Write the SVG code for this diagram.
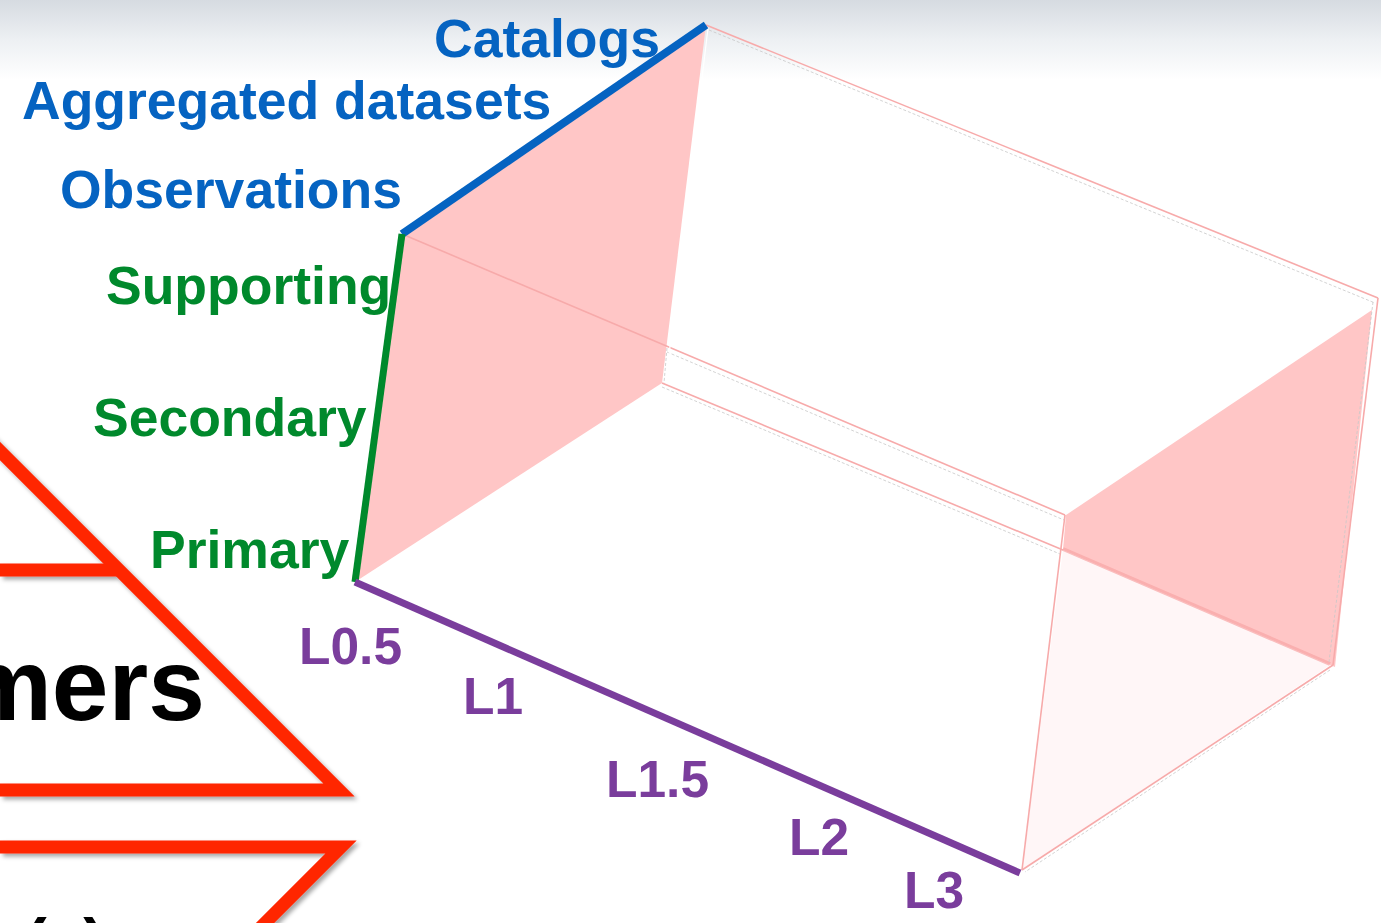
<svg xmlns="http://www.w3.org/2000/svg" width="1381" height="923" viewBox="0 0 1381 923">
<defs>
<linearGradient id="topbg" x1="0" y1="0" x2="0" y2="1">
<stop offset="0" stop-color="#d6dbe1"/>
<stop offset="0.5" stop-color="#edf0f3"/>
<stop offset="1" stop-color="#ffffff"/>
</linearGradient>
<radialGradient id="glow" cx="0.5" cy="0" r="0.5">
<stop offset="0" stop-color="#d6ecff" stop-opacity="0.9"/>
<stop offset="1" stop-color="#d6ecff" stop-opacity="0"/>
</radialGradient>
<filter id="shadow" x="-10%" y="-10%" width="130%" height="130%">
<feDropShadow dx="3" dy="3" stdDeviation="2" flood-color="#000" flood-opacity="0.35"/>
</filter>
</defs>
<style>
.blue{fill:#0563c1;font-family:"Liberation Sans",Arial,sans-serif;font-weight:bold;font-size:53.5px}
.green{fill:#00892c;font-family:"Liberation Sans",Arial,sans-serif;font-weight:bold;font-size:53.5px}
.purple{fill:#7a3d9c;font-family:"Liberation Sans",Arial,sans-serif;font-weight:bold;font-size:51.5px}
.black{fill:#000;font-family:"Liberation Sans",Arial,sans-serif;font-weight:bold}
.edge{stroke:#f7aaaa;stroke-width:1.6;fill:none}
.grey{stroke:#c8c8c8;stroke-width:0.8;fill:none;stroke-dasharray:3 2}
.red{stroke:#ff2600;stroke-width:13;fill:none;stroke-linejoin:miter}
</style>
<rect x="0" y="0" width="1381" height="923" fill="#ffffff"/>
<rect x="0" y="0" width="1381" height="80" fill="url(#topbg)"/>
<ellipse cx="680" cy="0" rx="260" ry="70" fill="url(#glow)"/>

<g id="chevrons" filter="url(#shadow)">
<polyline class="red" points="-12,439 339,790 0,790"/>
<line class="red" x1="0" y1="570" x2="119" y2="570"/>
<polyline class="red" points="0,847 341,847 260,928"/>
</g>
<g id="partial-text">
<text class="black" x="205" y="720" font-size="102" text-anchor="end">mers</text>
<text class="black" x="-1" y="965" font-size="66">r(s)</text>
</g>

<g id="box">
<polygon points="402,234 706,25 662,383 355,582" fill="#ffc6c6"/>
<polygon points="1066,515 1372,310 1335,667 1063,550" fill="#ffc6c6"/>
<polygon points="1063,550 1330,665 1022,870" fill="#fff6f7"/>
<line x1="1063" y1="549" x2="1330" y2="664" stroke="#f8a6a6" stroke-width="4" opacity="0.7"/>
<line class="grey" x1="709" y1="30" x2="1375" y2="303"/>
<line class="edge" x1="706" y1="25" x2="1378" y2="298"/>
<line class="grey" x1="1373" y1="302" x2="1329" y2="662"/>
<line class="edge" x1="1378" y1="298" x2="1333" y2="665"/>
<line class="grey" x1="1330" y1="670" x2="1025" y2="872"/>
<line class="edge" x1="1333" y1="665" x2="1022" y2="870"/>
<line class="edge" x1="1022" y1="870" x2="1065" y2="515"/>
<line class="edge" x1="402" y1="234" x2="1065" y2="515" stroke="#ec9a9a"/>
<line class="grey" x1="667" y1="352" x2="1064" y2="520"/>
<line class="edge" x1="662" y1="383" x2="1063" y2="550"/>
<line class="grey" x1="662" y1="387" x2="1060" y2="554"/>
<line x1="708" y1="28" x2="666" y2="380" stroke="#ffffff" stroke-width="1.2"/>
<line class="grey" x1="667" y1="348" x2="664" y2="383"/>
</g>

<g id="axes">
<line x1="402" y1="234" x2="706" y2="25" stroke="#0563c1" stroke-width="8"/>
<line x1="355" y1="582" x2="402" y2="234" stroke="#00892c" stroke-width="7"/>
<line x1="355" y1="582" x2="1020" y2="873" stroke="#7a3d9c" stroke-width="7"/>
</g>

<g id="labels-blue">
<text class="blue" x="434" y="57">Catalogs</text>
<text class="blue" x="22" y="119">Aggregated datasets</text>
<text class="blue" x="60" y="208">Observations</text>
</g>
<g id="labels-green">
<text class="green" x="106" y="304">Supporting</text>
<text class="green" x="93" y="436">Secondary</text>
<text class="green" x="150" y="568">Primary</text>
</g>
<g id="labels-purple">
<text class="purple" x="299" y="664">L0.5</text>
<text class="purple" x="463" y="714">L1</text>
<text class="purple" x="606" y="797">L1.5</text>
<text class="purple" x="789" y="855">L2</text>
<text class="purple" x="904" y="908">L3</text>
</g>
</svg>
